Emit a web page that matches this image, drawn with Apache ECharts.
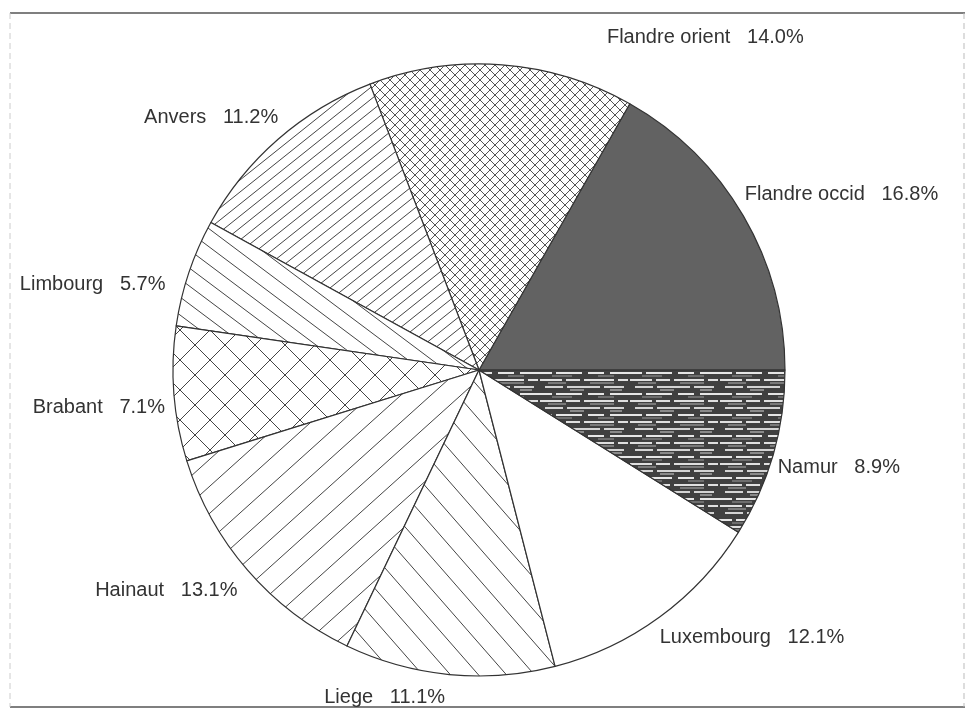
<!DOCTYPE html>
<html>
<head>
<meta charset="utf-8">
<title>Répartition par province</title>
<script src="https://cdn.jsdelivr.net/npm/echarts@6/dist/echarts.min.js"></script>
<style>
	html, body { margin: 0; padding: 0; background: #fff; }
	#chart { width: 969px; height: 719px; }
</style>
</head>
<body>
	<div id="chart"></div>
	<script type="text/javascript">

		// données (pourcentages)
		var provinces = ['Flandre occid', 'Flandre orient', 'Anvers', 'Limbourg', 'Brabant',
			'Hainaut', 'Liege', 'Luxembourg', 'Namur'];
		var parts = [16.8, 14.0, 11.2, 5.7, 7.1, 13.1, 11.1, 12.1, 8.9];

		// petits décalages des étiquettes (dx, dy), comme sur l'original
		var labelNudge = [[-14, -15], [99, -15], [13, -13], [-7, 16], [8, 13],
			[4, 12], [2, 11], [-12, 11], [-12, 10]];

		// motifs de hachures
		function tile(w, h) {
			var c = document.createElement('canvas');
			c.width = w; c.height = h;
			return c;
		}
		function hatch(w, h, dir, col, lw) {
			var c = tile(w, h), ctx = c.getContext('2d');
			ctx.fillStyle = '#fff';
			ctx.fillRect(0, 0, w, h);
			ctx.strokeStyle = col;
			ctx.lineWidth = lw;
			var shifts = [[0, 0], [w, 0], [-w, 0], [0, h], [0, -h]];
			shifts.forEach(function (s) {
				ctx.beginPath();
				if (dir > 0) {
					ctx.moveTo(s[0], h + s[1]);
					ctx.lineTo(w + s[0], s[1]);
				} else {
					ctx.moveTo(s[0], s[1]);
					ctx.lineTo(w + s[0], h + s[1]);
				}
				ctx.stroke();
			});
			return c;
		}
		function cross(s, col, lw) {
			var c = tile(s, s), ctx = c.getContext('2d');
			ctx.fillStyle = '#fff';
			ctx.fillRect(0, 0, s, s);
			ctx.strokeStyle = col;
			ctx.lineWidth = lw;
			[[0, 0], [s, 0], [-s, 0]].forEach(function (o) {
				ctx.beginPath();
				ctx.moveTo(o[0], s); ctx.lineTo(o[0] + s, 0);
				ctx.moveTo(o[0], 0); ctx.lineTo(o[0] + s, s);
				ctx.stroke();
			});
			return c;
		}
		// fond sombre avec des traînées claires horizontales (Namur)
		function streaks() {
			var c = tile(90, 21), ctx = c.getContext('2d');
			ctx.fillStyle = '#404040';
			ctx.fillRect(0, 0, 90, 21);
			var rows = [
				[1, '#e0e0e0', [[0, 22], [26, 14], [44, 30], [78, 10]]],
				[4, '#7a7a7a', [[8, 18], [50, 24]]],
				[8, '#d4d4d4', [[5, 18], [27, 33], [64, 20]]],
				[11, '#8a8a8a', [[30, 14], [70, 12]]],
				[15, '#e6e6e6', [[0, 12], [16, 26], [48, 16], [70, 20]]],
				[18, '#6e6e6e', [[12, 20], [58, 16]]]
			];
			rows.forEach(function (r) {
				ctx.fillStyle = r[1];
				r[2].forEach(function (seg) {
					ctx.fillRect(seg[0], r[0], seg[1], 2);
				});
			});
			return c;
		}

		var fills = [
			'#626262',
			{ image: cross(10, '#555', 1), repeat: 'repeat' },
			{ image: hatch(15, 12, 1, '#444', 1), repeat: 'repeat' },
			{ image: hatch(24, 18, -1, '#444', 1), repeat: 'repeat' },
			{ image: cross(30, '#444', 1), repeat: 'repeat' },
			{ image: hatch(30, 27, 1, '#444', 1), repeat: 'repeat' },
			{ image: hatch(28, 32, -1, '#444', 1), repeat: 'repeat' },
			'#ffffff',
			{ image: streaks(), repeat: 'repeat' }
		];

		var seriesData = provinces.map(function (p, i) {
			return {
				name: p,
				value: parts[i],
				itemStyle: { color: fills[i] }
			};
		});

		var chart = echarts.init(document.getElementById('chart'), null, { renderer: 'canvas' });
		chart.setOption({
			backgroundColor: '#fff',
			animation: false,
			graphic: [
				{ type: 'line', shape: { x1: 10, y1: 13, x2: 965, y2: 13 }, style: { stroke: '#555', lineWidth: 1.5 } },
				{ type: 'line', shape: { x1: 10, y1: 707, x2: 965, y2: 707 }, style: { stroke: '#555', lineWidth: 1.5 } },
				{ type: 'line', shape: { x1: 10, y1: 13, x2: 10, y2: 707 }, style: { stroke: '#ccc', lineWidth: 1, lineDash: [6, 4] } },
				{ type: 'line', shape: { x1: 964, y1: 13, x2: 964, y2: 707 }, style: { stroke: '#bbb', lineWidth: 1, lineDash: [6, 4] } }
			],
			series: [{
				type: 'pie',
				center: [479, 370],
				radius: 306,
				startAngle: 0,
				clockwise: false,
				avoidLabelOverlap: false,
				silent: true,
				itemStyle: {
					borderColor: '#333',
					borderWidth: 1.2
				},
				label: {
					show: true,
					position: 'outside',
					formatter: function (p) {
						return p.name + '   ' + p.value.toFixed(1) + '%';
					},
					fontFamily: 'Liberation Sans, Arial, sans-serif',
					fontSize: 20,
					color: '#333'
				},
				labelLine: { show: false, length: 12, length2: 0 },
				labelLayout: function (params) {
					var n = labelNudge[params.dataIndex];
					return { dx: n[0], dy: n[1] };
				},
				data: seriesData
			}]
		});
	</script>
</body>
</html>
